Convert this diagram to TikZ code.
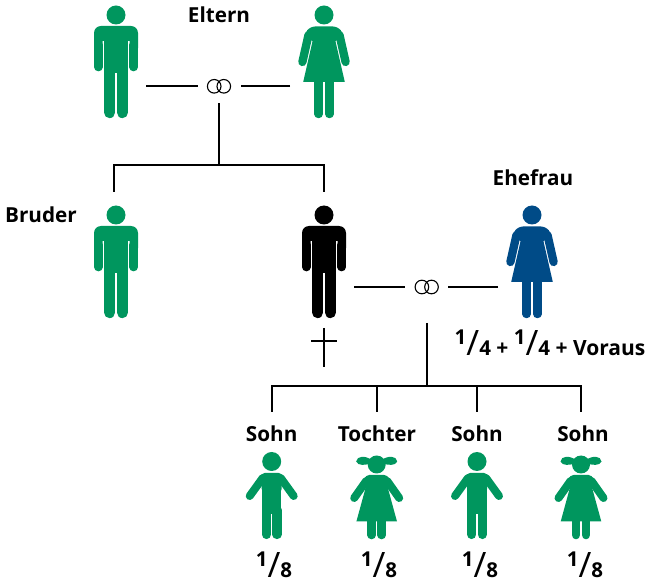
\documentclass[tikz,border=0pt]{standalone}
\usepackage{fontspec}
\setmainfont{Open Sans}
\definecolor{gruen}{HTML}{00965E}
\definecolor{blau}{HTML}{004B87}
\newcommand{\bruch}[2]{\raisebox{10.5pt}{\fontsize{20.5}{22}\selectfont #1}{\fontsize{35}{35}\mdseries\selectfont/}{\fontsize{20.5}{22}\selectfont #2}}
\tikzset{
	linie/.style = {line width = 1.9pt},
	titel/.style = {font = \bfseries\fontsize{20.7}{22}\selectfont, inner sep = 0pt},
	anteil/.style = {font = \bfseries\fontsize{21}{22}\selectfont, inner sep = 0pt},
	kind/.style = {titel, minimum height = 44pt},
	figurbox/.style = {minimum width = #1, minimum height = 126pt, inner sep = 0pt, outer sep = 0pt},
	ringe/.style = {minimum width = 43pt, minimum height = #1, inner sep = 0pt, outer sep = 0pt},
	pics/mann/.style = {code = {
		\fill[#1] (0,10) circle (9.5);
		\fill[#1, rounded corners = 7] (-22,50) -- (-22,21) -- (22,21) -- (22,50) [sharp corners] -- (13.5,50) -- (13.5,36) -- (-13.5,36) -- (-13.5,50) -- cycle;
		\draw[#1, line width = 8.7pt, line cap = round] (-17.65,40) -- (-17.65,62);
		\draw[#1, line width = 8.7pt, line cap = round] (17.65,40) -- (17.65,62);
		\fill[#1] (-12,30) rectangle (12,68);
		\draw[#1, line width = 11.3pt, line cap = round] (-6.4,66) -- (-6.4,107.5);
		\draw[#1, line width = 11.3pt, line cap = round] (6.4,66) -- (6.4,107.5);
		\node[figurbox = 60pt] (-box) at (0,50) {};
	}},
	pics/frau/.style = {code = {
		\fill[#1] (0,10) circle (9.5);
		\fill[#1, rounded corners = 5] (-19.5,29) -- (-14,21.5) -- (14,21.5) -- (19.5,29) -- (10,38) -- (-10,38) -- cycle;
		\fill[#1] (-10.5,32) -- (10.5,32) -- (20.8,77) -- (-20.8,77) -- cycle;
		\draw[#1, line width = 8.3pt, line cap = round] (-15.5,30) -- (-21.6,57);
		\draw[#1, line width = 8.3pt, line cap = round] (15.5,30) -- (21.6,57);
		\draw[#1, line width = 8.5pt, line cap = round] (-5.4,72) -- (-5.4,109);
		\draw[#1, line width = 8.5pt, line cap = round] (5.4,72) -- (5.4,109);
		\node[figurbox = 68pt] (-box) at (0,50) {};
	}},
	pics/junge/.style = {code = {
		\fill[gruen] (0,9.5) circle (9.5);
		\fill[gruen, rounded corners = 3] (-10,21) rectangle (10,40);
		\fill[gruen] (-9.7,30) rectangle (9.7,62);
		\draw[gruen, line width = 8pt, line cap = round] (-9,26) -- (-22,44);
		\draw[gruen, line width = 8pt, line cap = round] (9,26) -- (22,44);
		\draw[gruen, line width = 9.2pt, line cap = round] (-5.2,58) -- (-5.2,82.5);
		\draw[gruen, line width = 9.2pt, line cap = round] (5.2,58) -- (5.2,82.5);
	}},
	pics/maedchen/.style = {code = {
		\fill[gruen] (0,8.5) circle (9);
		\fill[gruen] (-5,4) .. controls (-11,-0.5) and (-20,-0.5) .. (-20.5,5.5) .. controls (-19,10) and (-11,9.5) .. (-5,7) -- cycle;
		\fill[gruen] (5,4) .. controls (11,-0.5) and (20,-0.5) .. (20.5,5.5) .. controls (19,10) and (11,9.5) .. (5,7) -- cycle;
		\fill[gruen, rounded corners = 4] (-11.5,19) -- (11.5,19) -- (14,32) -- (-14,32) -- cycle;
		\fill[gruen] (-9.5,26) -- (9.5,26) -- (20.3,65.5) -- (-20.3,65.5) -- cycle;
		\draw[gruen, line width = 8pt, line cap = round] (-10.5,25) -- (-22.5,42);
		\draw[gruen, line width = 8pt, line cap = round] (10.5,25) -- (22.5,42);
		\draw[gruen, line width = 8.6pt, line cap = round] (-5,60) -- (-5,79);
		\draw[gruen, line width = 8.6pt, line cap = round] (5,60) -- (5,79);
	}},
	pics/trauringe/.style = {code = {
		\draw[line width = 1.1pt] (-4.8,0) circle (6.8);
		\draw[line width = 1.1pt] (4.8,0) circle (6.8);
	}}
}
\begin{document}
\begin{tikzpicture}[x = 1pt, y = -1pt]
	\useasboundingbox (0,0) rectangle (649,580);
	
	\pic (vater) at (116,5) {mann = gruen};
	\pic (mutter) at (324,5) {frau = gruen};
	\pic (bruderfig) at (116,205) {mann = gruen};
	\pic (erblasser) at (324,205) {mann = black};
	\pic (ehefraufig) at (532,205) {frau = blau};
	
	\node[titel] (eltern) at (219,15) {Eltern};
	\node[titel] (bruder) at (41,215) {Bruder};
	\node[titel] (ehefrau) at (533,178) {Ehefrau};
	\node[anteil] (voraus) at (550,343) {\bruch{1}{4} + \bruch{1}{4} + Voraus};
	
	\node[ringe = 34pt] (ringoben) at (219,86.3) {};
	\pic at (ringoben) {trauringe};
	\draw[linie] (vater-box.east |- ringoben) -- (ringoben.west);
	\draw[linie] (mutter-box.west |- ringoben) -- (ringoben.east);
	
	\coordinate (astoben) at (219,165);
	\coordinate (astbruder) at (114,192);
	\draw[linie] (ringoben.south) -- (astoben);
	\draw[linie] (astbruder) |- (astoben);
	\draw[linie] (erblasser-box.north) |- (astoben);
	
	\node[ringe = 72pt] (ringunten) at (426.7,287) {};
	\pic at (ringunten) {trauringe};
	\draw[linie] (erblasser-box.east |- ringunten) -- (ringunten.west);
	\draw[linie] (ehefraufig-box.west |- ringunten) -- (ringunten.east);
	
	\draw[linie] (324,328) -- (324,367);
	\draw[linie] (311,340.7) -- (337,340.7);
	
	\begin{scope}[shift = {(0,452)}]
		\pic at (271.7,0) {junge};
		\pic at (376.7,4) {maedchen};
		\pic at (477,0) {junge};
		\pic at (581,4) {maedchen};
		
		\node[anteil] (bruch1) at (274,113) {\bruch{1}{8}};
		\node[anteil] (bruch2) at (379,113) {\bruch{1}{8}};
		\node[anteil] (bruch3) at (480,113) {\bruch{1}{8}};
		\node[anteil] (bruch4) at (585,113) {\bruch{1}{8}};
	\end{scope}
	
	\node[kind] (sohn1) at (271.7,434) {Sohn};
	\node[kind] (tochter) at (377,434) {Tochter};
	\node[kind] (sohn2) at (477,434) {Sohn};
	\node[kind] (sohn3) at (583,434) {Sohn};
	
	\coordinate (astunten) at (426.7,386);
	\coordinate (astsohn) at (581,412);
	\draw[linie] (ringunten.south) -- (astunten);
	\draw[linie] (sohn1.north) |- (astunten);
	\draw[linie] (tochter.north) |- (astunten);
	\draw[linie] (sohn2.north) |- (astunten);
	\draw[linie] (astsohn) |- (astunten);
\end{tikzpicture}
\end{document}
